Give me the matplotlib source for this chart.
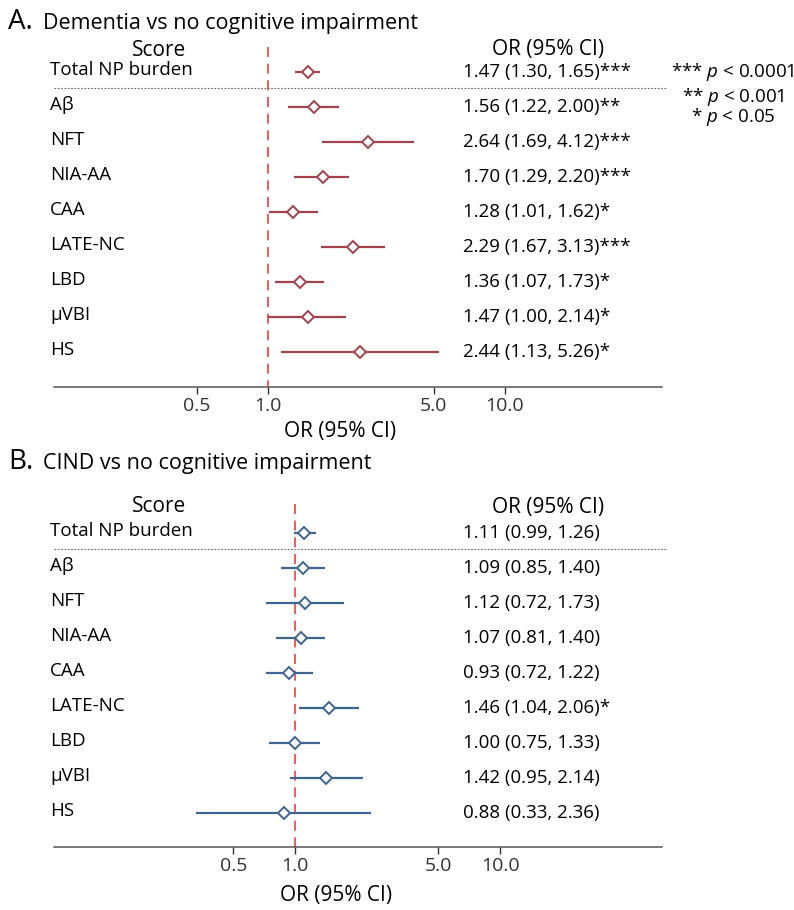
import matplotlib
matplotlib.use("Agg")
import matplotlib.pyplot as plt
import matplotlib.transforms as mtrans

plt.rcParams['font.family'] = ['Open Sans', 'DejaVu Sans']
plt.rcParams['mathtext.fontset'] = 'custom'
plt.rcParams['mathtext.rm'] = 'Open Sans'
plt.rcParams['mathtext.it'] = 'Open Sans:italic'

# data
scores = ["Total NP burden", "Aβ", "NFT", "NIA-AA", "CAA", "LATE-NC", "LBD", "μVBI", "HS"]

dem_or = [1.47, 1.56, 2.64, 1.70, 1.28, 2.29, 1.36, 1.47, 2.44]
dem_lo = [1.30, 1.22, 1.69, 1.29, 1.01, 1.67, 1.07, 1.00, 1.13]
dem_hi = [1.65, 2.00, 4.12, 2.20, 1.62, 3.13, 1.73, 2.14, 5.26]
dem_sig = ["***", "**", "***", "***", "*", "***", "*", "*", "*"]

cind_or = [1.11, 1.09, 1.12, 1.07, 0.93, 1.46, 1.00, 1.42, 0.88]
cind_lo = [0.99, 0.85, 0.72, 0.81, 0.72, 1.04, 0.75, 0.95, 0.33]
cind_hi = [1.26, 1.40, 1.73, 1.40, 1.22, 2.06, 1.33, 2.14, 2.36]
cind_sig = ["", "", "", "", "", "*", "", "", ""]

xticks = [0.5, 1.0, 5.0, 10.0]
xticklabels = ["0.5", "1.0", "5.0", "10.0"]

W, H = 794, 910
fig = plt.figure(figsize=(W / 100, H / 100), dpi=100)


def fx(px):
    return px / W


def fy(py):
    return 1 - py / H


def panel(top_px, bot_px, row0, xlim, orv, lo, hi, sig, color, head_y, lab_x, lab_y):
    ax = fig.add_axes([fx(54), fy(bot_px), fx(662) - fx(54), (bot_px - top_px) / H])
    step = 35.0
    ax.set_ylim((bot_px - row0) / step, (top_px - row0) / step)
    ax.set_xscale('log')
    ax.set_xlim(*xlim)
    ax.set_xticks(xticks)
    ax.set_xticklabels(xticklabels, fontsize=14)
    ax.minorticks_off()
    ax.tick_params(axis='x', length=5, width=1, pad=2, colors='#333333')
    ax.set_yticks([])
    for s in ['top', 'left', 'right']:
        ax.spines[s].set_visible(False)
    ax.spines['bottom'].set_color('#555555')
    ax.spines['bottom'].set_linewidth(1.1)

    ys = list(range(len(scores)))
    hy = (head_y - row0) / step
    ax.vlines(1.0, hy - 0.1, (bot_px - row0) / step, colors='#e8423f', linestyles=(0, (6, 4)), lw=1.2)
    ax.hlines(ys, lo, hi, colors=color, lw=1.6, zorder=3)
    ax.plot(orv, ys, 'D', ms=6, mfc='white', mec=color, mew=1.4, ls='none', zorder=4)

    tr = mtrans.blended_transform_factory(fig.transFigure, ax.transData)
    ax.plot([fx(54), fx(666)], [0.46, 0.46], transform=tr, color='#666666', lw=0.8, ls=(0, (1.5, 1.5)), clip_on=False)
    ax.text(fx(159), hy, "Score", transform=tr, ha='center', va='center', fontsize=15)
    ax.text(fx(548), hy, "OR (95% CI)", transform=tr, ha='center', va='center', fontsize=15)
    for i in ys:
        ax.text(fx(50), i - 0.06, scores[i], transform=tr, ha='left', va='center', fontsize=13.5)
        txt = "{:.2f} ({:.2f}, {:.2f}){}".format(orv[i], lo[i], hi[i], sig[i])
        ax.text(fx(463), i, txt, transform=tr, ha='left', va='center', fontsize=13.5)

    ax.set_xlabel("OR (95% CI)", fontsize=15)
    ax.xaxis.set_label_coords((lab_x - 54) / 608, -(lab_y - bot_px) / (bot_px - top_px))
    ax.xaxis.label.set_verticalalignment('center')
    return ax


panel(30, 387, 72, (0.125, 46.0), dem_or, dem_lo, dem_hi, dem_sig, '#a3424c', 50, 340, 432)
panel(490, 847, 533, (0.0667, 61.7), cind_or, cind_lo, cind_hi, cind_sig, '#3e6592', 507, 336, 895)

# panel titles
fig.text(fx(8), fy(29), "A.", fontsize=20, va='baseline', ha='left')
fig.text(fx(43), fy(29), "Dementia vs no cognitive impairment", fontsize=15.5, va='baseline', ha='left')
fig.text(fx(8), fy(469), "B.", fontsize=20, va='baseline', ha='left')
fig.text(fx(43), fy(469), "CIND vs no cognitive impairment", fontsize=15.5, va='baseline', ha='left')

# significance key
fig.text(fx(733), fy(72), r"*** $p$ < 0.0001", fontsize=13.5, ha='center', va='center')
fig.text(fx(733), fy(97), r"** $p$ < 0.001", fontsize=13.5, ha='center', va='center')
fig.text(fx(733), fy(117), r"* $p$ < 0.05", fontsize=13.5, ha='center', va='center')

fig.savefig("out.png", dpi=100)
